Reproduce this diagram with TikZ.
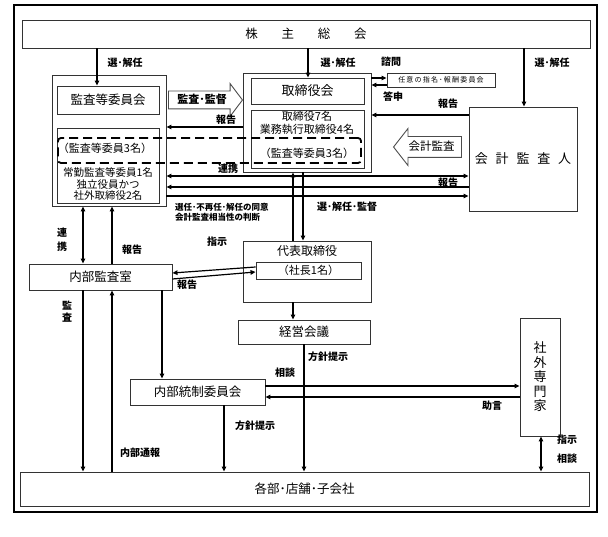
\documentclass[tikz,border=0pt]{standalone}
\usepackage{fontspec}
\newfontfamily\jp{Noto Sans CJK JP}
\usetikzlibrary{arrows.meta,shapes.arrows}

\tikzset{
  box/.style={draw=black!80, line width=0.9pt, inner sep=0pt, align=center,
    font=\jp\fontsize{12.5}{15}\selectfont},
  txt/.style={inner sep=0pt, align=center, font=\jp\fontsize{11}{13}\selectfont},
  lbl/.style={inner sep=0pt, align=center, font=\jp\bfseries\fontsize{10}{12}\selectfont},
  conn/.style={line width=1.2pt},
  dashbox/.style={draw, dashed, dash pattern=on 9pt off 5pt, line width=1.8pt,
    rounded corners=3pt, inner sep=0pt},
  blockarrow/.style={single arrow, draw=black!70, line width=0.9pt, inner xsep=2pt,
    text height=8.5pt, text depth=2pt},
}

\begin{document}
\begin{tikzpicture}[x=1pt,y=-1pt,>={Triangle[length=5pt,width=4.5pt]}]
    \useasboundingbox (0,0) rectangle (608,537);
    \draw[line width=2.5pt] (14,5) rectangle (597,512);

    \node[box, minimum width=568pt, minimum height=28pt] (soukai) at (306,34)
        {株\hspace{1.9em}主\hspace{1.9em}総\hspace{1.9em}会};

    \node[box, minimum width=114pt, minimum height=131pt] (kansaOut) at (109,140.5) {};
    \node[box, minimum width=102pt, minimum height=28pt] (kansaTop) at (108,100) {監査等委員会};
    \node[box, minimum width=102pt, minimum height=75pt] (kansaLow) at (108,165.5) {};
    \node[txt] (kansaNum) at (105,148) {（監査等委員3名）};
    \node[txt, font=\jp\fontsize{10.5}{11.5}\selectfont] (kansaMem) at (108,184)
        {常勤監査等委員1名\\独立役員かつ\\社外取締役2名};

    \node[box, minimum width=128pt, minimum height=99pt] (torOut) at (307,122.5) {};
    \node[box, minimum width=113pt, minimum height=26pt, font=\jp\fontsize{13}{15}\selectfont]
        (torTop) at (307.5,91) {取締役会};
    \node[box, minimum width=113pt, minimum height=58pt] (torLow) at (307.5,139) {};
    \node[txt, font=\jp\fontsize{11}{13}\selectfont] (torMem) at (307,122.5)
        {取締役7名\\業務執行取締役4名};
    \node[txt] (torNum) at (307,153) {（監査等委員3名）};

    \node[dashbox, minimum width=303pt, minimum height=25pt] (dash) at (209.5,150.5) {};

    \node[box, minimum width=108pt, minimum height=14pt,
        font=\jp\fontsize{7}{8}\selectfont\addfontfeatures{LetterSpace=17}]
        (nini) at (441,80) {任意の指名･報酬委員会};

    \node[box, minimum width=108pt, minimum height=104pt, font=\jp\fontsize{13}{15}\selectfont]
        (kaikei) at (523,159) {会\hspace{0.6em}計\hspace{0.6em}監\hspace{0.6em}査\hspace{0.6em}人};

    \node[blockarrow, minimum height=74pt, inner ysep=3.25pt, single arrow head extend=7.5pt,
        single arrow tip angle=106, font=\jp\bfseries\fontsize{11}{13}\selectfont]
        (kantoku) at (168,100) [anchor=west] {監査･監督};
    \node[blockarrow, minimum height=68pt, inner ysep=4.75pt, single arrow head extend=8pt,
        single arrow tip angle=104, shape border rotate=180,
        font=\jp\fontsize{11.5}{13}\selectfont]
        (kaikeiKansa) at (462,147) [anchor=east] {会計監査};

    \node[box, minimum width=128pt, minimum height=61pt] (daihyo) at (307,271.5) {};
    \node[txt, font=\jp\fontsize{12}{14}\selectfont] (daihyoT) at (307,251) {代表取締役};
    \node[box, minimum width=105pt, minimum height=17pt, font=\jp\fontsize{11}{13}\selectfont]
        (shacho) at (308.5,270.5) {（社長1名）};

    \node[box, minimum width=143pt, minimum height=26pt] (naibu) at (100.5,277) {内部監査室};
    \node[box, minimum width=132pt, minimum height=24pt] (keiei) at (304,332) {経営会議};
    \node[box, minimum width=135pt, minimum height=26pt] (tousei) at (197.5,392) {内部統制委員会};
    \node[box, minimum width=40pt, minimum height=118pt, font=\jp\fontsize{13}{14.5}\selectfont]
        (senmon) at (540,377) {社\\外\\専\\門\\家};
    \node[box, minimum width=569pt, minimum height=34pt] (kakubu) at (304.5,489) {各部･店舗･子会社};

    \coordinate (v1) at (97,0);
    \coordinate (v2) at (308,0);
    \coordinate (v3) at (524,0);
    \coordinate (v4) at (83,0);
    \coordinate (v5) at (112,0);
    \coordinate (v6) at (293,0);
    \coordinate (v7) at (303,0);
    \coordinate (v8) at (162,0);
    \coordinate (v9) at (224,0);
    \coordinate (v10) at (304,0);
    \coordinate (v11) at (541,0);
    \coordinate (h1) at (0,78);
    \coordinate (h2) at (0,85);
    \coordinate (h3) at (0,115);
    \coordinate (h4) at (0,127);
    \coordinate (h5) at (0,176);
    \coordinate (h6) at (0,187);
    \coordinate (h7) at (0,196);
    \coordinate (h8) at (0,386);
    \coordinate (h9) at (0,397);

    \draw[conn,->] (soukai.south -| v1) -- (kansaTop.north -| v1);
    \draw[conn,->] (soukai.south -| v2) -- (torTop.north -| v2);
    \draw[conn,->] (soukai.south -| v3) -- (kaikei.north -| v3);

    \draw[conn,->] (torOut.west |- h4) -- (kansaOut.east |- h4);
    \draw[conn,->] (torOut.east |- h1) -- (nini.west |- h1);
    \draw[conn,->] (nini.west |- h2) -- (torOut.east |- h2);
    \draw[conn,->] (kaikei.west |- h3) -- (torOut.east |- h3);

    \draw[conn,<->] (kansaOut.east |- h5) -- (kaikei.west |- h5);
    \draw[conn,->] (kaikei.west |- h6) -- (kansaOut.east |- h6);
    \draw[conn,->] (kansaOut.east |- h7) -- (kaikei.west |- h7);

    \draw[conn,->] (daihyo.north -| v6) -- (torOut.south -| v6);
    \draw[conn,->] (torOut.south -| v7) -- (daihyo.north -| v7);

    \draw[conn,<->] (kansaOut.south -| v4) -- (naibu.north -| v4);
    \draw[conn,->] (naibu.north -| v5) -- (kansaOut.south -| v5);

    \draw[conn,->] ([yshift=3.5pt]shacho.west) -- ([yshift=4pt]naibu.east);
    \draw[conn,->] ([yshift=-2pt]naibu.east) -- ([yshift=-1.5pt]shacho.west);

    \draw[conn,->] (daihyo.south -| v6) -- (keiei.north -| v6);
    \draw[conn,->] (keiei.south -| v10) -- (kakubu.north -| v10);
    \draw[conn,->] (naibu.south -| v8) -- (tousei.north -| v8);
    \draw[conn,->] (naibu.south -| v4) -- (kakubu.north -| v4);
    \draw[conn,->] (kakubu.north -| v5) -- (naibu.south -| v5);
    \draw[conn,->] (tousei.south -| v9) -- (kakubu.north -| v9);

    \draw[conn,->] (tousei.east |- h8) -- (senmon.west |- h8);
    \draw[line width=2pt,->] (senmon.west |- h9) -- (tousei.east |- h9);
    \draw[conn,<->] (senmon.south -| v11) -- (kakubu.north -| v11);

    \node[lbl] (l1) at (125,63) {選･解任};
    \node[lbl] (l2) at (338,63) {選･解任};
    \node[lbl] (l3) at (552,63) {選･解任};
    \node[lbl] (l4) at (391,62) {諮問};
    \node[lbl] (l5) at (393,97) {答申};
    \node[lbl] (l6) at (448,104) {報告};
    \node[lbl] (l7) at (226,120) {報告};
    \node[lbl] (l8) at (228,169) {連携};
    \node[lbl] (l9) at (448,183) {報告};
    \node[lbl, align=left, anchor=west, font=\jp\bfseries\fontsize{8.5}{10}\selectfont]
        (l10) at (175,212) {選任･不再任･解任の同意\\会計監査相当性の判断};
    \node[lbl] (l11) at (347,207) {選･解任･監督};
    \node[lbl, font=\jp\bfseries\fontsize{10}{14}\selectfont] (l12) at (62,240) {連\\携};
    \node[lbl] (l13) at (132,250) {報告};
    \node[lbl] (l14) at (217,242) {指示};
    \node[lbl] (l15) at (187,285) {報告};
    \node[lbl, font=\jp\bfseries\fontsize{10}{12}\selectfont] (l16) at (67,312) {監\\査};
    \node[lbl] (l17) at (328,357) {方針提示};
    \node[lbl] (l18) at (285,373) {相談};
    \node[lbl] (l19) at (492,406) {助言};
    \node[lbl] (l20) at (255,426) {方針提示};
    \node[lbl] (l21) at (140,453) {内部通報};
    \node[lbl] (l22) at (567,440) {指示};
    \node[lbl] (l23) at (567,459) {相談};
\end{tikzpicture}
\end{document}
